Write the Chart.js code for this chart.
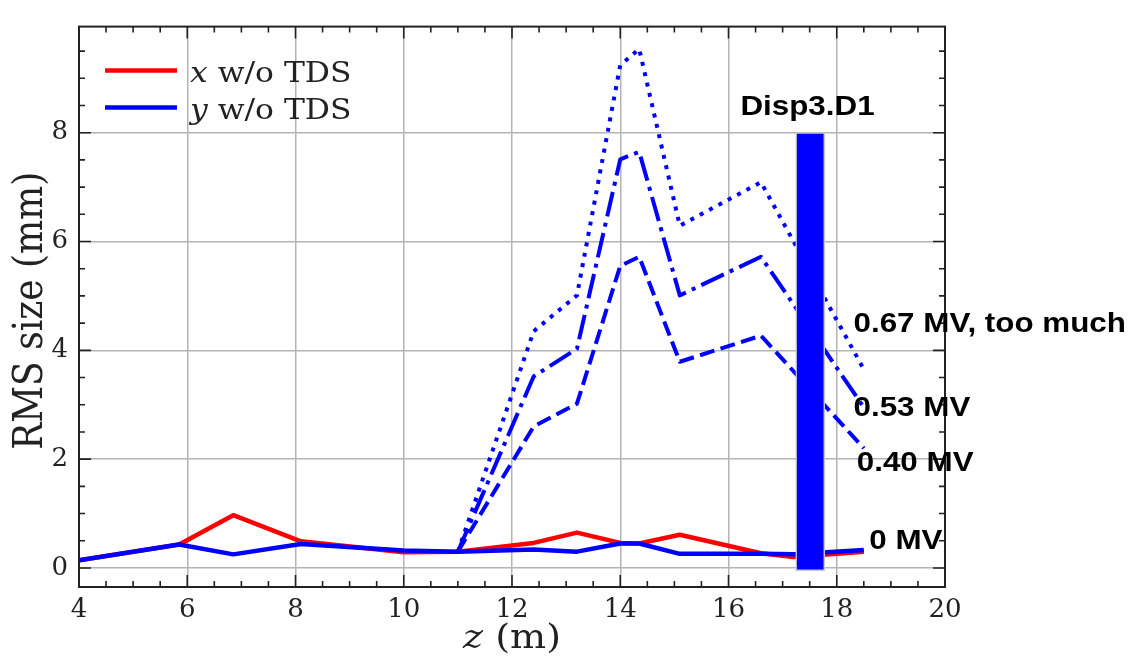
<!DOCTYPE html>
<html>
<head>
<meta charset="utf-8">
<script src="https://cdn.jsdelivr.net/npm/chart.js@4.4.1/dist/chart.umd.min.js"></script>
<style>
  html, body { margin: 0; padding: 0; background: #fff; }
  #wrap { width: 1136px; height: 660px; }
</style>
</head>
<body>
<div id="wrap"><canvas id="rms" width="1136" height="660"></canvas></div>
<script>
// ===== Data =====
const zPos   = [4, 5.85, 6.85, 8.1, 10.0, 11.0, 12.4, 13.2, 14.0, 14.35, 15.1, 16.6, 17.2, 18.5];
const xNoTds = [0.14, 0.43, 0.97, 0.49, 0.29, 0.30, 0.46, 0.65, 0.46, 0.45, 0.61, 0.27, 0.20, 0.30];
const yNoTds = [0.14, 0.43, 0.25, 0.44, 0.32, 0.30, 0.34, 0.30, 0.45, 0.45, 0.26, 0.26, 0.25, 0.33];
const y040   = [null, null, null, null, null, 0.30, 2.60, 3.02, 5.55, 5.72, 3.79, 4.27, null, 2.20];
const y053   = [null, null, null, null, null, 0.30, 3.52, 4.03, 7.51, 7.65, 5.01, 5.72, null, 2.95];
const y067   = [null, null, null, null, null, 0.30, 4.35, 5.01, 9.24, 9.54, 6.29, 7.09, null, 3.65];
const xTicks = [4, 6, 8, 10, 12, 14, 16, 18, 20];
const yTicks = [0, 2, 4, 6, 8];
const dispZ = 17.51;
const dispRange = [-0.05, 8.0];
const notes = [
  { text: 'Disp3.D1', z: 16.22, v: 8.33 },
  { text: '0.67 MV, too much', z: 18.31, v: 4.33 },
  { text: '0.53 MV', z: 18.31, v: 2.80 },
  { text: '0.40 MV', z: 18.37, v: 1.78 },
  { text: '0 MV', z: 18.60, v: 0.35 },
];

const pts = arr => zPos.map((z, i) => ({ x: z, y: arr[i] }));
const SERIF = '"DejaVu Serif", serif';
const SANS = '"Liberation Sans", Arial, sans-serif';
const SX = 1.12; // the reference is a little stretched sideways

const line = (label, arr, color, dash, order) => ({
  type: 'scatter', label, data: pts(arr), showLine: true, spanGaps: true,
  borderColor: color, backgroundColor: color, borderWidth: dash.length ? 4 : 4.5,
  borderDash: dash, borderCapStyle: 'butt', borderJoinStyle: 'round',
  pointRadius: 0, pointHoverRadius: 0, order,
});

// draw a run of text parts with a horizontal stretch
function stretched(ctx, parts, x, y, align) {
  ctx.save();
  ctx.textBaseline = 'alphabetic';
  let w = 0;
  parts.forEach(p => { ctx.font = p.font; w += ctx.measureText(p.t).width; });
  ctx.translate(x, y);
  ctx.scale(SX, 1);
  let cx = align === 'center' ? -w / 2 : 0;
  parts.forEach(p => { ctx.font = p.font; ctx.fillText(p.t, cx, 0); cx += ctx.measureText(p.t).width; });
  ctx.restore();
}

// ===== Frame, inward ticks, legend, notes, axis titles =====
const decor = {
  id: 'decor',
  afterDraw(chart) {
    const { ctx, chartArea: a, scales: { x, y } } = chart;
    ctx.save();
    ctx.strokeStyle = '#222';
    ctx.lineWidth = 1.6;
    ctx.beginPath();
    for (let v = x.min; v <= x.max + 1e-9; v += 0.5) {
      const px = x.getPixelForValue(v), len = v % 2 === 0 ? 12 : 6;
      ctx.moveTo(px, a.bottom); ctx.lineTo(px, a.bottom - len);
      ctx.moveTo(px, a.top); ctx.lineTo(px, a.top + len);
    }
    for (let v = Math.ceil(y.min * 2) / 2; v <= y.max; v += 0.5) {
      const py = y.getPixelForValue(v), len = v % 2 === 0 ? 12 : 6;
      ctx.moveTo(a.left, py); ctx.lineTo(a.left + len, py);
      ctx.moveTo(a.right, py); ctx.lineTo(a.right - len, py);
    }
    ctx.stroke();
    ctx.lineWidth = 2;
    ctx.strokeRect(a.left, a.top, a.right - a.left, a.bottom - a.top);

    // legend
    const lx = a.left + 26, ly = a.top + 44;
    [['x', '#ff0000'], ['y', '#0000ff']].forEach(([v, c], i) => {
      const yy = ly + i * 37;
      ctx.strokeStyle = c; ctx.lineWidth = 4.5; ctx.lineCap = 'butt';
      ctx.beginPath(); ctx.moveTo(lx, yy); ctx.lineTo(lx + 72, yy); ctx.stroke();
      ctx.fillStyle = '#222';
      stretched(ctx, [{ t: v, font: `italic 28px ${SERIF}` }, { t: ' w/o TDS', font: `28px ${SERIF}` }],
        lx + 85, yy + 11, 'left');
    });

    // notes
    ctx.fillStyle = '#000';
    notes.forEach(n => {
      stretched(ctx, [{ t: n.text, font: `bold 28px ${SANS}` }],
        x.getPixelForValue(n.z), y.getPixelForValue(n.v), 'left');
    });

    // axis titles
    ctx.fillStyle = '#222';
    stretched(ctx, [{ t: 'z', font: `italic 34px ${SERIF}` }, { t: ' (m)', font: `34px ${SERIF}` }],
      (a.left + a.right) / 2, 648, 'center');
    ctx.save();
    ctx.translate(42, (a.top + a.bottom) / 2 + 4);
    ctx.scale(SX, 1);
    ctx.rotate(-Math.PI / 2);
    ctx.font = `36px ${SERIF}`;
    ctx.textAlign = 'center';
    ctx.textBaseline = 'alphabetic';
    ctx.fillText('RMS size (mm)', 0, 0);
    ctx.restore();
    ctx.restore();
  }
};

new Chart(document.getElementById('rms'), {
  type: 'scatter',
  data: {
    datasets: [
      {
        type: 'bar', label: 'Disp3.D1', data: [{ x: dispZ, y: dispRange }],
        backgroundColor: '#0000ff', borderColor: '#c9c9d6', borderWidth: 1.5,
        borderSkipped: false, barThickness: 29, order: 0,
      },
      line('x w/o TDS', xNoTds, '#ff0000', [], 2),
      line('y w/o TDS', yNoTds, '#0000ff', [], 1),
      line('0.40 MV', y040, '#0000ff', [15, 6.5], 3),
      line('0.53 MV', y053, '#0000ff', [25, 6.5, 4, 6.5], 3),
      line('0.67 MV, too much', y067, '#0000ff', [4, 6.6], 3),
    ]
  },
  options: {
    responsive: false,
    animation: false,
    layout: { padding: { left: 0, top: 9, right: 191, bottom: 0 } },
    plugins: { legend: { display: false }, tooltip: { enabled: false } },
    scales: {
      x: {
        type: 'linear', min: 4, max: 20, offset: false,
        afterBuildTicks: s => { s.ticks = xTicks.map(v => ({ value: v })); },
        afterFit: s => { s.height = 73; },
        grid: { color: '#b4b4b4', lineWidth: 1.5, drawTicks: false, offset: false },
        border: { display: false },
        ticks: { font: { family: SERIF, size: 26 }, color: '#222', padding: 8, maxRotation: 0, autoSkip: false },
      },
      y: {
        type: 'linear', min: -0.35, max: 9.95,
        afterBuildTicks: s => { s.ticks = yTicks.map(v => ({ value: v })); },
        afterFit: s => { s.width = 79; },
        grid: { color: '#b4b4b4', lineWidth: 1.5, drawTicks: false },
        border: { display: false },
        ticks: { font: { family: SERIF, size: 26 }, color: '#222', padding: 11, autoSkip: false },
      }
    }
  },
  plugins: [decor]
});
</script>
</body>
</html>
